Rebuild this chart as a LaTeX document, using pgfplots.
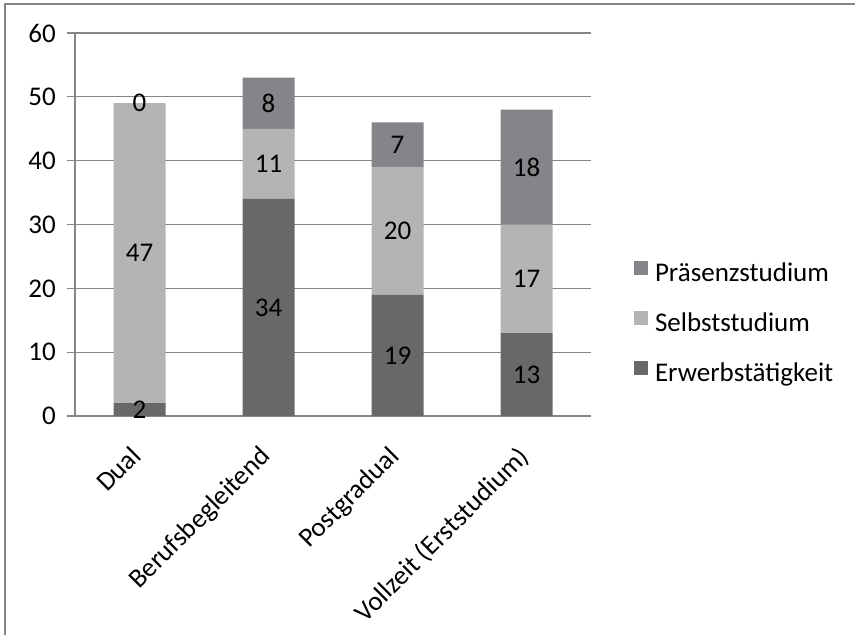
\documentclass[border=0pt]{standalone}
\usepackage{fontspec}
\setmainfont{Carlito}
\usepackage{pgfplots}
\pgfplotsset{compat=1.18}
\usepackage{pgfplotstable}
\definecolor{cErw}{RGB}{104,104,106}
\definecolor{cSelb}{RGB}{179,180,182}
\definecolor{cPrae}{RGB}{132,133,136}
\definecolor{axgray}{RGB}{134,134,134}
\pgfplotstableread{
x y
0 2
1 34
2 19
3 13
}\erw
\pgfplotstableread{
x y
0 47
1 11
2 20
3 17
}\selb
\pgfplotstableread{
x y
0 0
1 8
2 7
3 18
}\prae
% label positions: middle of each segment, with its value
\pgfplotstableread{
x yc v
0 1 2
0 25.5 47
0 49 0
1 17 34
1 39.5 11
1 49 8
2 9.5 19
2 29 20
2 42.5 7
3 6.5 13
3 21.5 17
3 39 18
}\labels
\pgfplotsset{frame/.style={
  at={(75bp,219bp)}, anchor=south west,
  scale only axis, width=516bp, height=383bp,
  xmin=-0.5, xmax=3.5, ymin=0, ymax=60,
  font=\fontsize{27bp}{32bp}\selectfont,
  /pgf/number format/assume math mode=true,
}}
\begin{document}
\begin{tikzpicture}
\useasboundingbox (0,0) rectangle (855bp,635bp);
\draw[axgray, line width=1.3bp] (5bp,-20bp) -- (5bp,631bp) -- (880bp,631bp);
\begin{axis}[
  frame,
  ybar stacked, bar width=52bp,
  ytick={0,10,...,60},
  xtick={0,1,2,3},
  xticklabels={Dual,Berufsbegleitend,Postgradual,Vollzeit (Erststudium)},
  xticklabel style={rotate=45, anchor=north east, inner sep=0pt, xshift=-21.5bp, yshift=-7bp},
  x tick style={draw=none},
  extra x ticks={-0.5,0.5,1.5,2.5,3.5},
  extra x tick labels={},
  extra x tick style={tick align=outside, major tick length=8bp, tick style={draw=axgray, line width=1.3bp}},
  y tick style={draw=axgray, line width=1.3bp},
  tick align=outside, major tick length=8bp,
  yticklabel style={inner sep=0pt, anchor=east, xshift=-11bp},
  axis x line*=bottom, axis y line*=left,
  axis line style={draw=axgray, line width=1.6bp, -},
  ymajorgrids, major grid style={draw=axgray, line width=1.3bp},
  legend style={draw=none, fill=none, at={(1.083,0.24)}, anchor=west, inner sep=0pt,
    font=\fontsize{27bp}{32bp}\selectfont,
    nodes={inner sep=0pt, text height=19bp, text depth=6bp},
    row sep=23.5bp},
  legend cell align=left,
  legend image code/.code={\fill[#1] (0bp,0bp) rectangle (14bp,14bp);},
  /tikz/every odd column/.append style={column sep=7bp},
  reverse legend,
]
\addplot[fill=cErw, draw=none] table[x=x, y=y] {\erw};
\addlegendentry{Erwerbstätigkeit}
\addplot[fill=cSelb, draw=none] table[x=x, y=y] {\selb};
\addlegendentry{Selbststudium}
\addplot[fill=cPrae, draw=none] table[x=x, y=y] {\prae};
\addlegendentry{Präsenzstudium}
\end{axis}
\begin{axis}[frame, hide axis]
\addplot[only marks, mark=none, point meta=explicit,
  nodes near coords={\pgfmathprintnumber{\pgfplotspointmeta}},
  every node near coord/.append style={anchor=center, text=black, inner sep=0pt}]
  table[x=x, y=yc, meta=v] {\labels};
\end{axis}
\end{tikzpicture}
\end{document}
